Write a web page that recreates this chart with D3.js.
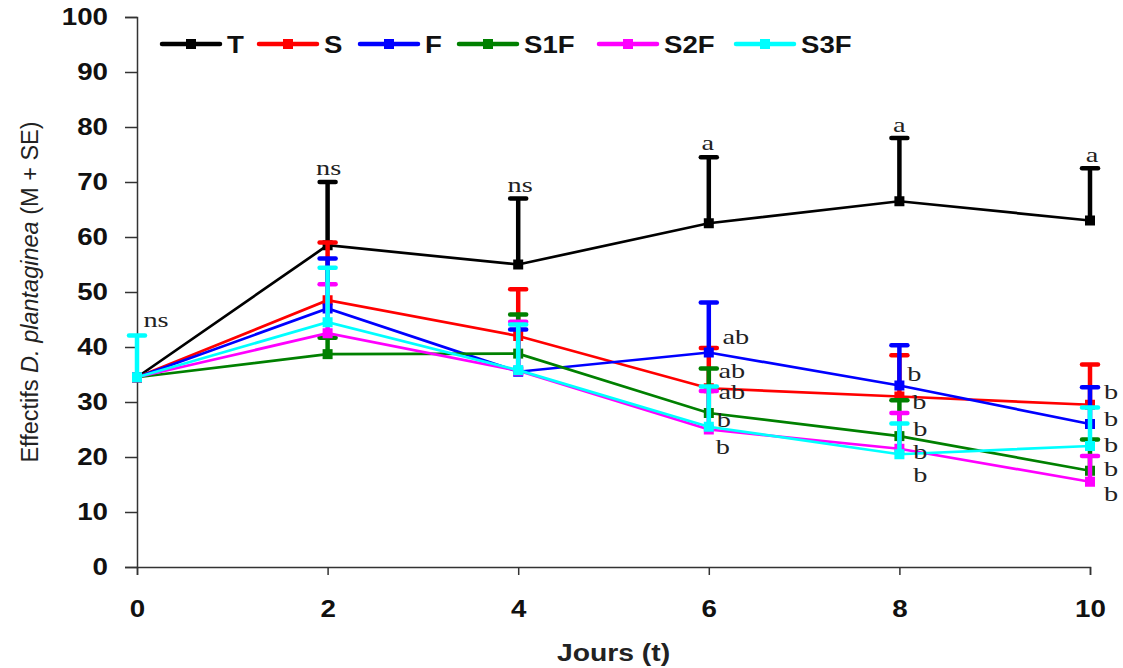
<!DOCTYPE html>
<html lang="fr">
<head>
  <meta charset="UTF-8">
  <title>Effectifs D. plantaginea</title>
  <style>
    body { margin: 0; background: #fff; }
    .tick text { font-family: "Liberation Sans", Arial, sans-serif; font-weight: bold; font-size: 23.5px; fill: #111; }
    .domain, .tick line { stroke: #333; stroke-width: 1.5px; }
    .sig { font-family: "Liberation Serif", "Times New Roman", serif; font-size: 21px; fill: #222; }
  </style>
</head>
<body>
  <script src="https://d3js.org/d3.v7.min.js"></script>
  <script>
    // jours
    const days = [0, 2, 4, 6, 8, 10];

    // moyennes par traitement
    const seriesNames = ["T", "S", "F", "S1F", "S2F", "S3F"];
    const seriesColors = ["#000000", "#ff0000", "#0000ff", "#008000", "#ff00ff", "#00ffff"];
    const meanT   = [34.5, 58.5, 55.0, 62.5, 66.5, 63.0];
    const meanS   = [34.5, 48.5, 42.0, 32.5, 31.0, 29.5];
    const meanF   = [34.5, 47.0, 35.5, 39.0, 33.0, 26.0];
    const meanS1F = [34.5, 38.7, 38.8, 28.0, 23.8, 17.5];
    const meanS2F = [34.5, 42.5, 35.7, 25.0, 21.5, 15.5];
    const meanS3F = [34.5, 44.5, 35.8, 25.5, 20.5, 22.0];

    // haut des barres d'erreur (M + SE)
    const topT   = [34.5, 70.0, 67.0, 74.5, 78.0, 72.5];
    const topS   = [34.5, 59.0, 50.5, 39.8, 38.5, 36.8];
    const topF   = [34.5, 56.1, 43.2, 48.1, 40.3, 32.7];
    const topS1F = [34.5, 41.7, 45.9, 36.1, 30.3, 23.2];
    const topS2F = [34.5, 51.4, 44.6, 32.0, 28.0, 20.2];
    const topS3F = [42.1, 54.4, 44.1, 32.8, 26.1, 29.0];

    const means = [meanT, meanS, meanF, meanS1F, meanS2F, meanS3F];
    const tops = [topT, topS, topF, topS1F, topS2F, topS3F];

    // lettres de significativité : jour, valeur (ligne de base), texte, décalage x
    const sigDay   = [0, 2, 4, 6, 8, 10, 6, 6, 6, 6, 6, 8, 8, 8, 8, 8, 10, 10, 10, 10, 10];
    const sigValue = [43.7, 71.3, 68.2, 75.9, 79.1, 73.7, 40.5, 34.3, 30.6, 25.4, 20.5, 33.8, 28.7, 23.8, 19.6, 15.4, 30.5, 25.6, 20.9, 16.5, 12.0];
    const sigText  = ["ns", "ns", "ns", "a", "a", "a", "ab", "ab", "ab", "b", "b", "b", "b", "b", "b", "b", "b", "b", "b", "b", "b"];
    const sigDx    = [19, 1, 2, -1, 0, 2, 27, 23, 23, 15, 14, 15, 20, 21, 21, 21, 21, 21, 21, 21, 21];

    const width = 1123, height = 668;
    const margin = {left: 137, right: 33, top: 17, bottom: 101};
    const stretch = 1.18;

    const svg = d3.select("body").append("svg")
      .attr("width", width)
      .attr("height", height);

    const x = d3.scaleLinear().domain([0, 10]).range([margin.left, width - margin.right]);
    const y = d3.scaleLinear().domain([0, 100]).range([height - margin.bottom, margin.top]);

    // axes
    svg.append("g")
      .attr("transform", `translate(0,${y(0)})`)
      .call(d3.axisBottom(x).tickValues(days).tickSize(8).tickPadding(25))
      .call(g => g.selectAll(".tick text").attr("transform", `scale(${stretch},1)`));

    svg.append("g")
      .attr("transform", `translate(${x(0)},0)`)
      .call(d3.axisLeft(y).tickValues(d3.range(0, 101, 10)).tickSize(12).tickPadding(17))
      .call(g => g.selectAll(".tick text")
        .attr("x", -29 / stretch)
        .attr("transform", `scale(${stretch},1)`));

    // titres d'axes
    svg.append("text")
      .attr("transform", `translate(${(x(0) + x(10)) / 2},661) scale(${stretch},1)`)
      .attr("text-anchor", "middle")
      .style("font-family", "Liberation Sans, Arial, sans-serif")
      .style("font-weight", "bold")
      .style("font-size", "24px")
      .attr("fill", "#222")
      .text("Jours (t)");

    const ylab = svg.append("text")
      .attr("transform", `translate(38,${(y(0) + y(100)) / 2}) rotate(-90)`)
      .attr("text-anchor", "middle")
      .style("font-family", "Liberation Sans, Arial, sans-serif")
      .style("font-size", "23.5px")
      .attr("fill", "#222");
    ylab.append("tspan").text("Effectifs ");
    ylab.append("tspan").style("font-style", "italic").text("D. plantaginea");
    ylab.append("tspan").text(" (M + SE)");

    const line = d3.line().x((d, i) => x(days[i])).y(d => y(d));

    // séries
    seriesNames.forEach((name, s) => {
      const g = svg.append("g");
      const col = seriesColors[s];
      // barres d'erreur
      days.forEach((d, i) => {
        if (tops[s][i] <= means[s][i]) return;
        g.append("line")
          .attr("x1", x(d)).attr("x2", x(d))
          .attr("y1", y(means[s][i])).attr("y2", y(tops[s][i]))
          .attr("stroke", col).attr("stroke-width", 4.5);
        g.append("line")
          .attr("x1", x(d) - 8).attr("x2", x(d) + 8)
          .attr("y1", y(tops[s][i])).attr("y2", y(tops[s][i]))
          .attr("stroke", col).attr("stroke-width", 4.5)
          .attr("stroke-linecap", "round");
      });
      g.append("path")
        .attr("d", line(means[s]))
        .attr("fill", "none")
        .attr("stroke", col)
        .attr("stroke-width", 2.7);
      g.selectAll("rect")
        .data(means[s])
        .join("rect")
        .attr("x", (d, i) => x(days[i]) - 5)
        .attr("y", d => y(d) - 5)
        .attr("width", 10)
        .attr("height", 10)
        .attr("fill", col);
    });

    // lettres
    svg.append("g").selectAll("text")
      .data(sigText)
      .join("text")
      .attr("class", "sig")
      .attr("transform", (d, i) => `translate(${x(sigDay[i]) + sigDx[i]},${y(sigValue[i])}) scale(1.35,1)`)
      .attr("text-anchor", "middle")
      .text(d => d);

    // légende
    const legX = [162, 259, 360, 459, 599, 736];
    const legend = svg.append("g").attr("transform", "translate(0,44)");
    seriesNames.forEach((name, s) => {
      const lg = legend.append("g").attr("transform", `translate(${legX[s]},0)`);
      lg.append("line")
        .attr("x1", 0).attr("x2", 58)
        .attr("stroke", seriesColors[s])
        .attr("stroke-width", 4.5)
        .attr("stroke-linecap", "round");
      lg.append("rect")
        .attr("x", 24).attr("y", -5)
        .attr("width", 10).attr("height", 10)
        .attr("fill", seriesColors[s]);
      lg.append("text")
        .attr("transform", `translate(65,9) scale(1.15,1)`)
        .style("font-family", "Liberation Sans, Arial, sans-serif")
        .style("font-weight", "bold")
        .style("font-size", "24px")
        .attr("fill", "#111")
        .text(name);
    });
  </script>
</body>
</html>
